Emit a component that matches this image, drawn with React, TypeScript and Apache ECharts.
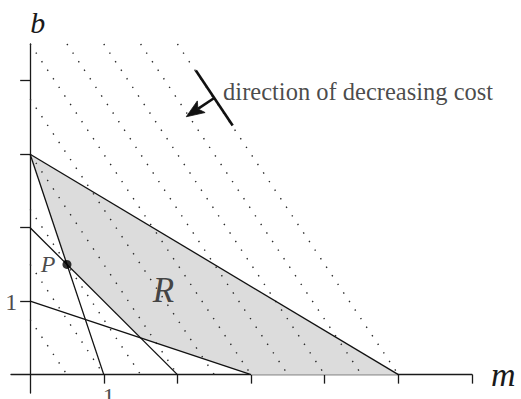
import React, { useEffect, useRef } from "react";
import * as echarts from "echarts";

// ---- data ----
const mTicks = [1, 2, 3, 4, 5, 6];
const bTicks = [1, 2, 3, 4];
const mLabelPoints: number[][] = [[1, 0]];
const bLabelPoints: number[][] = [[0, 1]];

// feasible region R (vertices)
const regionR: number[][] = [
  [0, 3],
  [5, 0],
  [3, 0],
  [1.5, 0.5],
  [0.5, 1.5],
];

// constraint lines (end points)
const constraintLines: number[][][] = [
  [[0, 3], [1, 0]],
  [[0, 2], [2, 0]],
  [[0, 1], [3, 0]],
  [[0, 3], [5, 0]],
];

// iso-cost lines (dotted)
const costLines: number[][][] = [
  [[0, 0.75], [0.5, 0]],
  [[0, 1.5], [1, 0]],
  [[0, 2.25], [1.5, 0]],
  [[0, 3], [2, 0]],
  [[0, 3.75], [2.5, 0]],
  [[0, 4.5], [3, 0]],
  [[0.5, 4.5], [3.5, 0]],
  [[1, 4.5], [4, 0]],
  [[1.5, 4.5], [4.5, 0]],
  [[2, 4.5], [5, 0]],
];

const pointP = [0.5, 1.5];
const labelRPos = [1.81, 1.14];
const arrowBar: number[][] = [[2.25, 4.14], [2.75, 3.39]];
const arrowShaft: number[][] = [[2.5, 3.765], [2.12, 3.51]];
const arrowTextPos = [2.62, 3.85];
const arrowText = "direction of decreasing cost";

const SERIF = "'Liberation Serif', 'DejaVu Serif', serif";
const INK = "#1a1a1a";

export default function App() {
  const ref = useRef<HTMLDivElement>(null);
  useEffect(() => {
    if (!ref.current) return;
    const chart = echarts.init(ref.current, undefined, { renderer: "svg" });
    chart.setOption({
      animation: false,
      backgroundColor: "#ffffff",
      textStyle: { fontFamily: SERIF },
      grid: { left: 11, right: 49, top: 44, bottom: 6, containLabel: false, outerBoundsMode: "none" },
      xAxis: {
        type: "value",
        min: -0.26,
        max: 6,
        splitLine: { show: false },
        axisLine: { show: true, onZero: true, lineStyle: { color: INK, width: 1.3 } },
        axisTick: { show: true, customValues: mTicks, length: 9, inside: false, lineStyle: { color: INK, width: 1.3 } },
        axisLabel: { show: false },
        name: "m",
        nameLocation: "end",
        nameGap: 19,
        nameTextStyle: {
          fontSize: 34,
          fontStyle: "italic",
          fontFamily: SERIF,
          color: INK,
          padding: [0, 0, 7, 0],
        },
      },
      yAxis: {
        type: "value",
        min: -0.25,
        max: 4.5,
        splitLine: { show: false },
        axisLine: { show: true, onZero: true, lineStyle: { color: INK, width: 1.3 } },
        axisTick: { show: true, customValues: bTicks, length: 10, inside: false, lineStyle: { color: INK, width: 1.3 } },
        axisLabel: { show: false },
        name: "b",
        nameLocation: "end",
        nameGap: 7,
        nameTextStyle: {
          fontSize: 30,
          fontStyle: "italic",
          fontFamily: SERIF,
          color: INK,
          align: "left",
        },
      },
      series: [
        {
          type: "custom",
          silent: true,
          z: 1,
          data: [[0, 0]],
          renderItem: (params: any, api: any) => ({
            type: "polygon",
            shape: { points: regionR.map((p) => api.coord(p)) },
            style: { fill: "#dcdcdc", stroke: "none" },
          }),
        },
        {
          type: "lines",
          coordinateSystem: "cartesian2d",
          silent: true,
          z: 2,
          symbol: "none",
          data: costLines.map((c) => ({ coords: c })),
          lineStyle: { color: "#2a2a2a", width: 1.4, type: [1.4, 8.9], opacity: 1 },
        },
        {
          type: "lines",
          coordinateSystem: "cartesian2d",
          silent: true,
          z: 3,
          symbol: "none",
          data: constraintLines.map((c) => ({ coords: c })),
          lineStyle: { color: "#111111", width: 1.3, type: "solid", opacity: 1 },
        },
        {
          type: "lines",
          coordinateSystem: "cartesian2d",
          silent: true,
          z: 4,
          symbol: "none",
          data: [{ coords: arrowBar }],
          lineStyle: { color: "#111111", width: 2.6, type: "solid", opacity: 1 },
        },
        {
          type: "custom",
          silent: true,
          z: 4,
          data: [[0, 0]],
          renderItem: (params: any, api: any) => {
            const a = api.coord(arrowShaft[0]);
            const t = api.coord(arrowShaft[1]);
            const dx = t[0] - a[0];
            const dy = t[1] - a[1];
            const L = Math.hypot(dx, dy) || 1;
            const ux = dx / L;
            const uy = dy / L;
            const px = -uy;
            const py = ux;
            const headLen = 18;
            const halfW = 7;
            const notch = 4;
            const bx = t[0] - ux * headLen;
            const by = t[1] - uy * headLen;
            const nx = t[0] - ux * (headLen - notch);
            const ny = t[1] - uy * (headLen - notch);
            return {
              type: "group",
              children: [
                {
                  type: "line",
                  shape: { x1: a[0], y1: a[1], x2: nx, y2: ny },
                  style: { stroke: "#111111", lineWidth: 2.6 },
                },
                {
                  type: "polygon",
                  shape: {
                    points: [
                      [t[0], t[1]],
                      [bx + px * halfW, by + py * halfW],
                      [nx, ny],
                      [bx - px * halfW, by - py * halfW],
                    ],
                  },
                  style: { fill: "#111111", stroke: "#111111", lineWidth: 0.8, lineJoin: "round" },
                },
              ],
            };
          },
        },
        {
          type: "scatter",
          z: 5,
          silent: true,
          symbol: "circle",
          symbolSize: 9,
          itemStyle: { color: "#000000" },
          data: [pointP],
          label: {
            show: true,
            position: "left",
            distance: 7,
            formatter: "P",
            fontSize: 24,
            fontStyle: "italic",
            fontFamily: SERIF,
            color: INK,
          },
        },
        {
          type: "scatter",
          z: 5,
          silent: true,
          symbolSize: 0,
          data: [labelRPos],
          label: {
            show: true,
            position: "inside",
            formatter: "R",
            fontSize: 35,
            fontStyle: "italic",
            fontFamily: SERIF,
            color: INK,
          },
        },
        {
          type: "scatter",
          z: 5,
          silent: true,
          symbolSize: 0,
          data: [arrowTextPos],
          label: {
            show: true,
            position: "right",
            distance: 0,
            formatter: arrowText,
            fontSize: 24.5,
            fontFamily: SERIF,
            color: INK,
          },
        },
        {
          type: "scatter",
          z: 5,
          silent: true,
          symbolSize: 0,
          data: mLabelPoints.map((p) => ({
            value: p,
            label: {
              show: true,
              position: "bottom",
              distance: 9,
              offset: [5, 0],
              formatter: String(p[0]),
              fontSize: 24,
              fontFamily: SERIF,
              color: INK,
            },
          })),
        },
        {
          type: "scatter",
          z: 5,
          silent: true,
          symbolSize: 0,
          data: bLabelPoints.map((p) => ({
            value: p,
            label: {
              show: true,
              position: "left",
              distance: 13,
              offset: [0, 1],
              formatter: String(p[1]),
              fontSize: 24,
              fontFamily: SERIF,
              color: INK,
            },
          })),
        },
      ],
    });
    return () => chart.dispose();
  }, []);
  return (
    <div
      ref={ref}
      style={{ position: "absolute", left: 0, top: 0, width: 521, height: 399, background: "#fff" }}
    />
  );
}
